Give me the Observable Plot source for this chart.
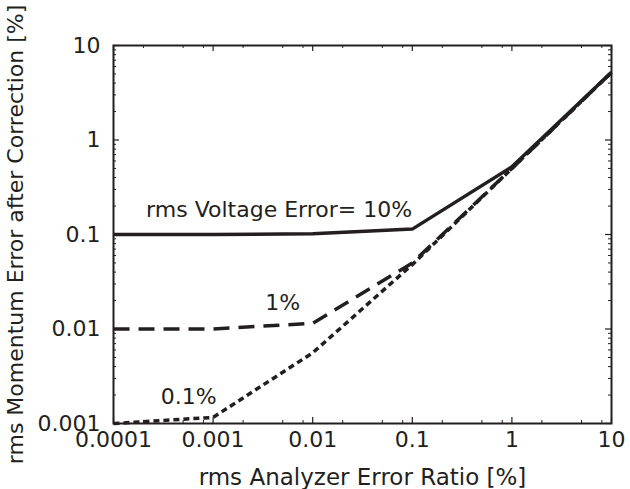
<!DOCTYPE html>
<html>
<head>
<meta charset="utf-8">
<script src="https://cdn.jsdelivr.net/npm/d3@7"></script>
<script src="https://cdn.jsdelivr.net/npm/@observablehq/plot@0.6"></script>
<style>
  html, body { margin: 0; padding: 0; background: #fff; }
  #chart { width: 630px; height: 489px; }
</style>
</head>
<body>
<div id="chart"></div>
<script>
// x: rms Analyzer Error Ratio [%]
const xValues = [0.0001, 0.001, 0.01, 0.1, 1, 10];
// y: rms Momentum Error after Correction [%]
const err10 = [0.1, 0.1, 0.102, 0.114, 0.52, 5.2];
const err1 = [0.01, 0.01, 0.0115, 0.05, 0.5, 5.2];
const err01 = [0.001, 0.00116, 0.0056, 0.048, 0.5, 5.2];

const seriesNames = ["10%", "1%", "0.1%"];
const labelTexts = ["rms Voltage Error= 10%", "1%", "0.1%"];
const labelX = [0.0046, 0.005, 0.00057];
const labelY = [0.18, 0.019, 0.0019];

const xTickValues = [0.0001, 0.001, 0.01, 0.1, 1, 10];
const xTickLabels = ["0.0001", "0.001", "0.01", "0.1", "1", "10"];
const yTickValues = [0.001, 0.01, 0.1, 1, 10];
const yTickLabels = ["0.001", "0.01", "0.1", "1", "10"];
const xMinorMultipliers = [2, 5, 8];
const yMinorMultipliers = [2, 3, 4, 5, 6, 7, 8, 9];

const xLabel = "rms Analyzer Error Ratio [%]";
const yLabel = "rms Momentum Error after Correction [%]";

const W = 630, H = 489;
const mL = 113, mR = 19, mT = 45, mB = 66;
const fw = W - mL - mR, fh = H - mT - mB;
const ink = "#231f20";

const rows = [];
[err10, err1, err01].forEach((arr, i) => {
  arr.forEach((v, j) => rows.push({series: seriesNames[i], x: xValues[j], y: v}));
});
const labels = labelTexts.map((t, i) => ({text: t, x: labelX[i], y: labelY[i]}));

const xMinor = [];
xTickValues.slice(0, -1).forEach(d => xMinorMultipliers.forEach(m => xMinor.push(d * m)));
const yMinor = [];
yTickValues.slice(0, -1).forEach(d => yMinorMultipliers.forEach(m => yMinor.push(d * m)));

const styles = {
  "10%": {dash: null},
  "1%": {dash: "16,9"},
  "0.1%": {dash: "6,4"}
};

const majLen = 6, minLen = 3;
const fs = 22;

const marks = [
  Plot.frame({stroke: ink, strokeWidth: 2}),
  Plot.tickX(xTickValues, {x: d => d, insetTop: fh - majLen, stroke: ink, strokeWidth: 1.2}),
  Plot.tickX(xTickValues, {x: d => d, insetBottom: fh - majLen, stroke: ink, strokeWidth: 1.2}),
  Plot.tickX(xMinor, {x: d => d, insetTop: fh - minLen, stroke: ink, strokeWidth: 1}),
  Plot.tickX(xMinor, {x: d => d, insetBottom: fh - minLen, stroke: ink, strokeWidth: 1}),
  Plot.tickY(yTickValues, {y: d => d, insetRight: fw - majLen, stroke: ink, strokeWidth: 1.2}),
  Plot.tickY(yTickValues, {y: d => d, insetLeft: fw - majLen, stroke: ink, strokeWidth: 1.2}),
  Plot.tickY(yMinor, {y: d => d, insetRight: fw - minLen, stroke: ink, strokeWidth: 1}),
  Plot.tickY(yMinor, {y: d => d, insetLeft: fw - minLen, stroke: ink, strokeWidth: 1}),
  Plot.axisX({
    ticks: xTickValues, tickSize: 0, tickPadding: 8,
    tickFormat: d => xTickLabels[xTickValues.indexOf(d)],
    label: null, fontSize: fs, fill: ink
  }),
  Plot.axisX({
    ticks: [], tickSize: 0,
    label: xLabel, labelAnchor: "center", labelOffset: 61, labelArrow: "none",
    fontSize: 23, fill: ink
  }),
  Plot.axisY({
    ticks: yTickValues, tickSize: 0, tickPadding: 13,
    tickFormat: d => yTickLabels[yTickValues.indexOf(d)],
    label: yLabel, labelAnchor: "center", labelOffset: 106, labelArrow: "none",
    fontSize: fs, fill: ink
  }),
  ...seriesNames.map(s => Plot.line(rows.filter(r => r.series === s), {
    x: "x", y: "y", stroke: ink, strokeWidth: 3.5,
    strokeDasharray: styles[s].dash, strokeLinejoin: "miter", strokeLinecap: "butt"
  })),
  Plot.text(labels, {x: "x", y: "y", text: "text", fontSize: fs, fill: ink})
];

const chart = Plot.plot({
  width: W, height: H,
  marginLeft: mL, marginRight: mR, marginTop: mT, marginBottom: mB,
  style: {fontFamily: "DejaVu Sans, Verdana, sans-serif", fontSize: fs + "px", color: ink, background: "#fff"},
  x: {type: "log", domain: [0.0001, 10]},
  y: {type: "log", domain: [0.001, 10]},
  marks
});
document.getElementById("chart").appendChild(chart);
</script>
</body>
</html>
